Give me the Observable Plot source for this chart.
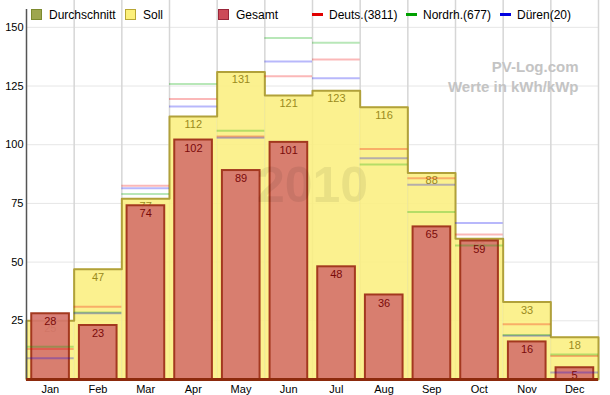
<!DOCTYPE html>
<html><head><meta charset="utf-8">
<script src="https://cdn.jsdelivr.net/npm/d3@7"></script>
<script src="https://cdn.jsdelivr.net/npm/@observablehq/plot@0.6"></script>
<style>
body{margin:0;background:#fff;font-family:"Liberation Sans",Arial,sans-serif;}
#wrap{position:relative;width:610px;height:395px;}
#legend{position:absolute;top:8px;left:0;width:610px;height:16px;font-size:12px;color:#000;}
.item{position:absolute;top:0;height:16px;line-height:15px;white-space:nowrap;}
.sq{display:inline-block;width:9px;height:9px;border:1px solid;vertical-align:-1px;margin-right:7px;}
.ln{display:inline-block;width:11px;height:3px;vertical-align:3px;margin-right:6px;}
</style></head><body><div id="wrap"><div id="chart"></div><div id="legend"></div></div>
<script>
const months = ["Jan","Feb","Mar","Apr","May","Jun","Jul","Aug","Sep","Oct","Nov","Dec"];
const soll   = [25,47,77,112,131,121,123,116,88,60,33,18];
const gesamt = [28,23,74,102,89,101,48,36,65,59,16,5];
const deuts  = [13,31,82.5,119.5,103.5,129.2,136.3,98.2,85.7,61.8,23.5,10];
const nordrh = [14,28.5,79,125.9,106,145.5,143.4,91.6,71.3,57.1,19,10.6];
const dueren = [9,28.2,81.5,116.3,103,135.4,128.3,94.2,82.9,66.7,18.6,3];
const yTicks = [25,50,75,100,125,150];
const legendItems = [
  {name:"Durchschnitt", kind:"sq", fill:"#9ea64e", stroke:"#7d8a2e"},
  {name:"Soll", kind:"sq", fill:"#fcf07a", stroke:"#b8a634"},
  {name:"Gesamt", kind:"sq", fill:"#cc4a58", stroke:"#99263a"},
  {name:"Deuts.(3811)", kind:"ln", fill:"#e00000"},
  {name:"Nordrh.(677)", kind:"ln", fill:"#00a000"},
  {name:"Düren(20)", kind:"ln", fill:"#0000e0"}
];
const refSeries = [
  {values: deuts, color: "rgba(240,0,0,0.28)"},
  {values: nordrh, color: "rgba(0,170,0,0.28)"},
  {values: dueren, color: "rgba(0,0,240,0.28)"}
];

const rows = months.map((m, i) => ({i, m, soll: soll[i], gesamt: gesamt[i]}));
const stepPts = [{x: 0, y: 0}];
soll.forEach((v, i) => { stepPts.push({x: i, y: v}, {x: i + 1, y: v}); });
stepPts.push({x: 12, y: 0});
const refs = [];
refSeries.forEach(s => s.values.forEach((v, i) => refs.push({x1: i, x2: i + 1, y: v, color: s.color})));

const yMax = 157.6;
const chart = Plot.plot({
  width: 610, height: 395,
  marginTop: 9, marginBottom: 16, marginLeft: 26, marginRight: 12,
  x: {domain: [0, 12], axis: null},
  y: {domain: [0, yMax], axis: null},
  style: {fontFamily: "'Liberation Sans', Arial, sans-serif", fontSize: "11px", color: "#000", background: "#fff"},
  marks: [
    Plot.ruleY(yTicks, {stroke: "#e6e6e6", strokeWidth: 1}),
    Plot.ruleX(d3.range(1, 13), {y1: 0, y2: 161.5, stroke: "#d6d6d6", strokeWidth: 1.5}),
    Plot.rectY(rows, {x1: "i", x2: d => d.i + 1, y: "soll", fill: "#faef80", fillOpacity: 0.88}),
    Plot.line(stepPts, {x: "x", y: "y", stroke: "#b1a13a", strokeWidth: 2, curve: "linear"}),
    Plot.text(rows, {x: d => d.i + 0.5, y: "soll", text: d => String(d.soll), dy: 8, fill: "#9a8a1c", fontSize: 11}),
    Plot.rectY(rows, {x1: d => d.i + 0.11, x2: d => d.i + 0.9, y: "gesamt", fill: "#d5746c", fillOpacity: 0.92, stroke: "#a3381f", strokeWidth: 2}),
    Plot.ruleY(refs, {x1: "x1", x2: "x2", y: "y", stroke: "color", strokeWidth: 2}),
    Plot.text(rows, {x: d => d.i + 0.5, y: "gesamt", text: d => String(d.gesamt), dy: 8, fill: "#7a0a0a", fontSize: 11}),
    Plot.ruleX([0], {y1: 0, y2: yMax, stroke: "#555", strokeWidth: 1.5}),
    Plot.ruleY([0], {x1: 0, x2: 12, stroke: "#8c2a0c", strokeWidth: 3}),
    Plot.axisY(yTicks, {tickSize: 0, tickPadding: 3, label: null, fill: "#000", fontSize: 11}),
    Plot.text(rows, {x: d => d.i + 0.5, y: 0, text: "m", dy: 10, fill: "#000", fontSize: 11}),
    Plot.text(["2010"], {frameAnchor: "middle", dy: -9, text: d => d, fontSize: 50, fontWeight: "bold", fill: "#000", fillOpacity: 0.07}),
    Plot.text(["PV-Log.com"], {frameAnchor: "top-right", dx: -20, dy: 52, text: d => d, textAnchor: "end", fontSize: 15, fontWeight: "bold", fill: "#c4c4c4"}),
    Plot.text(["Werte in kWh/kWp"], {frameAnchor: "top-right", dx: -20, dy: 72, text: d => d, textAnchor: "end", fontSize: 15, fontWeight: "bold", fill: "#c4c4c4"})
  ]
});
document.getElementById("chart").appendChild(chart);

const lx = [31, 125, 218, 312, 406, 500];
const leg = document.getElementById("legend");
legendItems.forEach((it, k) => {
  const d = document.createElement("div");
  d.className = "item";
  d.style.left = lx[k] + "px";
  const sw = document.createElement("span");
  sw.className = it.kind;
  sw.style.background = it.fill;
  if (it.kind === "sq") sw.style.borderColor = it.stroke;
  d.appendChild(sw);
  d.appendChild(document.createTextNode(it.name));
  leg.appendChild(d);
});
</script></body></html>
